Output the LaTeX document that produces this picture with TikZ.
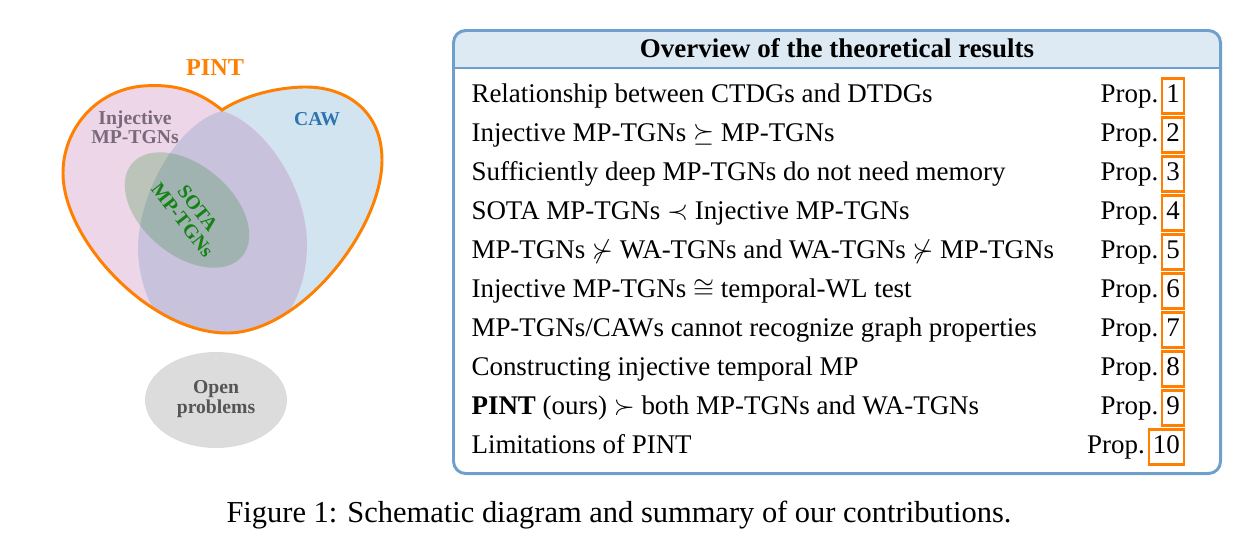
\documentclass[tikz,border=0pt]{standalone}
\usepackage{amsmath, amssymb}
\usepackage{fontspec}
\setmainfont{Liberation Serif}
\usepackage{tikz}
\usetikzlibrary{positioning}

\definecolor{pintorange}{RGB}{255,128,0}
\definecolor{injpink}{RGB}{236,214,232}
\definecolor{cawblue}{RGB}{210,228,240}
\definecolor{overlap}{RGB}{200,194,220}
\definecolor{sotagreen}{RGB}{20,130,20}
\definecolor{injtext}{RGB}{120,105,125}
\definecolor{cawtext}{RGB}{45,115,175}
\definecolor{opengray}{RGB}{220,220,220}
\definecolor{opentext}{RGB}{85,85,85}
\definecolor{frameblue}{RGB}{110,160,205}
\definecolor{headfill}{RGB}{221,233,243}

\begin{document}
\begin{tikzpicture}[
        x=0.371pt, y=-0.371pt,
        settext/.style={font=\fontsize{7.3}{7.2}\selectfont\bfseries, align=center, inner sep=0pt},
        rowtext/.style={anchor=base west, inner sep=0pt},
        proptext/.style={inner sep=0pt},
        numbox/.style={draw=pintorange, line width=0.9pt, inner xsep=1.5pt, inner ysep=1.2pt,
            text height=7.5pt, text depth=3pt, anchor=base east},
        frameline/.style={draw=frameblue, line width=1.1pt}
    ]
        \useasboundingbox (0,0) rectangle (1238,559);

        % Heart with the three sets
        \def\heartpath{(222,110) .. controls (195,88) and (170,84) .. (143,86)
            .. controls (95,90) and (63,130) .. (63,173)
            .. controls (63,240) and (150,333) .. (227,333)
            .. controls (300,333) and (382,230) .. (382,160)
            .. controls (382,110) and (345,86) .. (303,87)
            .. controls (270,88) and (240,98) .. (222,110) -- cycle}
        \begin{scope}
            \clip \heartpath;
            \fill[cawblue] \heartpath;
            \fill[injpink] (0,0) -- (222,0) -- (222,111)
                .. controls (262,122) and (307,185) .. (307,245)
                .. controls (307,300) and (275,350) .. (222,350) -- (222,400) -- (0,400) -- cycle;
            \fill[overlap] (222,111) .. controls (262,122) and (307,185) .. (307,245)
                .. controls (307,300) and (275,350) .. (222,350)
                .. controls (170,350) and (140,305) .. (138,250)
                .. controls (138,190) and (180,122) .. (222,111) -- cycle;
            \begin{scope}[shift={(187,210)}, rotate=-40]
                \fill[sotagreen, opacity=0.22] (0,0) ellipse [x radius=72, y radius=45];
            \end{scope}
        \end{scope}
        \draw[pintorange, line width=1.1pt] \heartpath;

        % Set labels
        \node[settext, font=\fontsize{9}{9}\selectfont\bfseries, text=pintorange, anchor=base] (pint) at (215,75) {PINT};
        \node[settext, text=injtext] (inj) at (135,127) {Injective\\MP-TGNs};
        \node[settext, text=cawtext] (caw) at (317,119.5) {CAW};
        \node[settext, text=sotagreen, rotate=-52] (sota) at (190,214) {SOTA\\MP-TGNs};

        % Open problems
        \fill[opengray] (216,400) ellipse [x radius=71, y radius=48];
        \node[settext, text=opentext] (open) at (216,399) {Open\\problems};

        % Overview box
        \coordinate (fnw) at (453.5,30.5);
        \coordinate (fse) at (1220.5,473.5);
        \begin{scope}
            \clip[rounded corners=4.5pt] (fnw) rectangle (fse);
            \fill[headfill] (fnw) rectangle (1220.5,68);
        \end{scope}
        \draw[frameline] (453.5,68) -- (1220.5,68);
        \draw[frameline, rounded corners=4.5pt] (fnw) rectangle (fse);
        \node[font=\bfseries, anchor=base] (title) at (837,57) {Overview of the theoretical results};

        % Results
        \node[rowtext] (r1) at (471,102) {Relationship between CTDGs and DTDGs};
        \node[rowtext] (r2) at (471,141) {Injective MP-TGNs $\succeq$ MP-TGNs};
        \node[rowtext] (r3) at (471,180) {Sufficiently deep MP-TGNs do not need memory};
        \node[rowtext] (r4) at (471,219) {SOTA MP-TGNs $\prec$ Injective MP-TGNs};
        \node[rowtext] (r5) at (471,258) {MP-TGNs $\nsucc$ WA-TGNs and WA-TGNs $\nsucc$ MP-TGNs};
        \node[rowtext] (r6) at (471,297) {Injective MP-TGNs $\cong$ temporal-WL test};
        \node[rowtext] (r7) at (471,336) {MP-TGNs/CAWs cannot recognize graph properties};
        \node[rowtext] (r8) at (471,375) {Constructing injective temporal MP};
        \node[rowtext] (r9) at (471,414) {\textbf{PINT} (ours) $\succ$ both MP-TGNs and WA-TGNs};
        \node[rowtext] (r10) at (471,453) {Limitations of PINT};
        \foreach \n in {1,...,10} {
            \node[numbox] (p\n) at (1185,{102+39*(\n-1)}) {\n};
            \node[proptext, base left=0.8pt of p\n] {Prop.};
        }

        % Caption
        \node[anchor=base, font=\fontsize{11.3}{13}\selectfont] (caption) at (619,522) {Figure 1: Schematic diagram and summary of our contributions.};
    \end{tikzpicture}
\end{document}
